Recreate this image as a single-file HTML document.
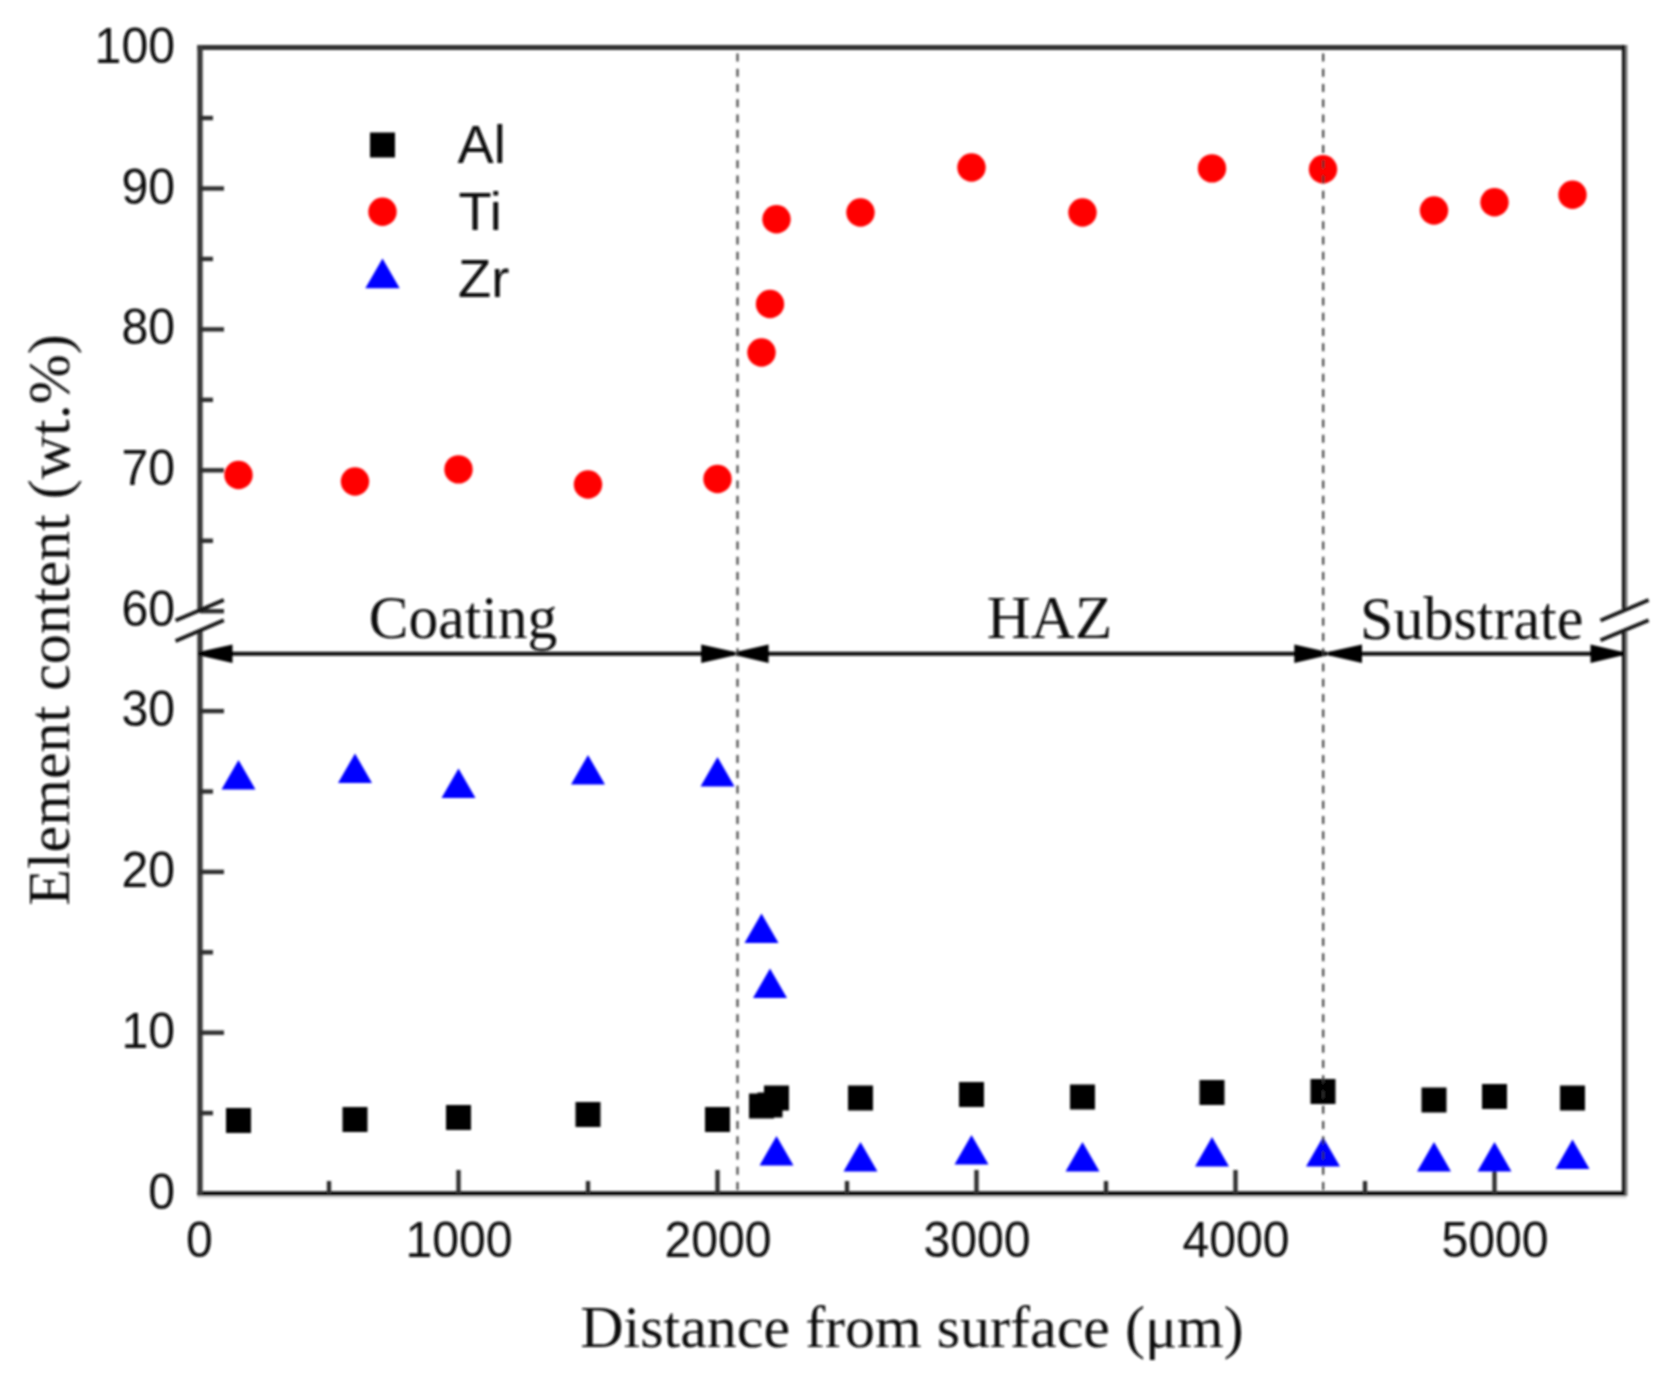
<!DOCTYPE html>
<html lang="en"><head><meta charset="utf-8"><title>Element content vs distance from surface</title>
<style>
html,body{margin:0;padding:0;background:#fff;}
body{width:1666px;height:1384px;overflow:hidden;}
svg{display:block;}
.sans{font-family:"Liberation Sans",Arial,Helvetica,sans-serif;fill:#0a0a0a;}
.serif{font-family:"Liberation Serif","Times New Roman",Times,serif;fill:#111;}
</style></head><body>
<svg width="1666" height="1384" viewBox="0 0 1666 1384">
<defs><filter id="soft" x="-2%" y="-2%" width="104%" height="104%"><feGaussianBlur stdDeviation="1.0"/></filter></defs>
<rect x="0" y="0" width="1666" height="1384" fill="#fff"/>
<g filter="url(#soft)">
<line x1="197.3" y1="47.4" x2="1625.2" y2="47.4" stroke="#333" stroke-width="5"/>
<line x1="197.3" y1="1197.2" x2="1626.5" y2="1197.2" stroke="#ddd" stroke-width="2.6"/>
<line x1="197.3" y1="1193.7" x2="1625.2" y2="1193.7" stroke="#0a0a0a" stroke-width="4.8"/>
<line x1="200" y1="45" x2="200" y2="612.5" stroke="#383838" stroke-width="5.3"/>
<line x1="200" y1="630" x2="200" y2="1196" stroke="#383838" stroke-width="5.3"/>
<line x1="1626.3" y1="45.0" x2="1626.3" y2="608.8" stroke="#808080" stroke-width="2.6"/>
<line x1="1623.6" y1="45.0" x2="1623.6" y2="608.8" stroke="#0c0c0c" stroke-width="3.3"/>
<line x1="1626.3" y1="630.0" x2="1626.3" y2="1196.0" stroke="#808080" stroke-width="2.6"/>
<line x1="1623.6" y1="630.0" x2="1623.6" y2="1196.0" stroke="#0c0c0c" stroke-width="3.3"/>
<g stroke="#2e2e2e" stroke-width="4.4" fill="none">
<line x1="200.0" y1="118.05" x2="213.0" y2="118.05"/>
<line x1="200.0" y1="188.50" x2="224.0" y2="188.50"/>
<line x1="200.0" y1="258.95" x2="213.0" y2="258.95"/>
<line x1="200.0" y1="329.40" x2="224.0" y2="329.40"/>
<line x1="200.0" y1="399.85" x2="213.0" y2="399.85"/>
<line x1="200.0" y1="470.30" x2="224.0" y2="470.30"/>
<line x1="200.0" y1="540.75" x2="213.0" y2="540.75"/>
<line x1="200.0" y1="611.20" x2="224.0" y2="611.20"/>
<line x1="200.0" y1="711.10" x2="224.0" y2="711.10"/>
<line x1="200.0" y1="791.50" x2="213.0" y2="791.50"/>
<line x1="200.0" y1="871.90" x2="224.0" y2="871.90"/>
<line x1="200.0" y1="952.30" x2="213.0" y2="952.30"/>
<line x1="200.0" y1="1032.70" x2="224.0" y2="1032.70"/>
<line x1="200.0" y1="1113.10" x2="213.0" y2="1113.10"/>
<line x1="329.00" y1="1194.0" x2="329.00" y2="1181.0"/>
<line x1="458.50" y1="1194.0" x2="458.50" y2="1170.0"/>
<line x1="588.00" y1="1194.0" x2="588.00" y2="1181.0"/>
<line x1="717.50" y1="1194.0" x2="717.50" y2="1170.0"/>
<line x1="847.00" y1="1194.0" x2="847.00" y2="1181.0"/>
<line x1="976.50" y1="1194.0" x2="976.50" y2="1170.0"/>
<line x1="1106.00" y1="1194.0" x2="1106.00" y2="1181.0"/>
<line x1="1235.50" y1="1194.0" x2="1235.50" y2="1170.0"/>
<line x1="1365.00" y1="1194.0" x2="1365.00" y2="1181.0"/>
<line x1="1494.50" y1="1194.0" x2="1494.50" y2="1170.0"/>
</g>
<g stroke="#151515" stroke-width="3.8" fill="none" stroke-linecap="butt">
<line x1="175.6" y1="620.6" x2="223.8" y2="600.0"/>
<line x1="175.6" y1="641.0" x2="223.8" y2="620.2"/>
<line x1="1600.5" y1="620.6" x2="1648.6" y2="600.0"/>
<line x1="1600.5" y1="640.2" x2="1648.6" y2="620.2"/>
</g>
<line x1="199.5" y1="653.7" x2="734.2" y2="653.7" stroke="#0a0a0a" stroke-width="4.0"/>
<polygon points="198.5,652.1 232.5,644.5 232.5,662.9 198.5,655.3" fill="#000"/>
<polygon points="735.2,652.1 701.2,644.5 701.2,662.9 735.2,655.3" fill="#000"/>
<line x1="736.6" y1="653.7" x2="1326.6" y2="653.7" stroke="#0a0a0a" stroke-width="4.0"/>
<polygon points="735.6,652.1 768.6,644.5 768.6,662.9 735.6,655.3" fill="#000"/>
<polygon points="1327.6,652.1 1294.3,644.5 1294.3,662.9 1327.6,655.3" fill="#000"/>
<line x1="1329.0" y1="653.7" x2="1622.0" y2="653.7" stroke="#0a0a0a" stroke-width="4.0"/>
<polygon points="1328.0,652.1 1362.0,644.5 1362.0,662.9 1328.0,655.3" fill="#000"/>
<polygon points="1623.0,652.1 1590.5,644.5 1590.5,662.9 1623.0,655.3" fill="#000"/>
<g fill="#000">
<rect x="226.00" y="1108.00" width="25.0" height="25.0"/>
<rect x="342.50" y="1107.00" width="25.0" height="25.0"/>
<rect x="446.00" y="1105.00" width="25.0" height="25.0"/>
<rect x="575.50" y="1102.00" width="25.0" height="25.0"/>
<rect x="705.00" y="1107.00" width="25.0" height="25.0"/>
<rect x="749.00" y="1093.50" width="25.0" height="25.0"/>
<rect x="757.50" y="1092.50" width="25.0" height="25.0"/>
<rect x="764.00" y="1085.50" width="25.0" height="25.0"/>
<rect x="848.00" y="1085.50" width="25.0" height="25.0"/>
<rect x="959.00" y="1082.00" width="25.0" height="25.0"/>
<rect x="1070.00" y="1084.50" width="25.0" height="25.0"/>
<rect x="1199.50" y="1080.00" width="25.0" height="25.0"/>
<rect x="1310.50" y="1079.00" width="25.0" height="25.0"/>
<rect x="1421.50" y="1087.50" width="25.0" height="25.0"/>
<rect x="1482.00" y="1084.00" width="25.0" height="25.0"/>
<rect x="1560.00" y="1085.50" width="25.0" height="25.0"/>
</g>
<g fill="#ff0000">
<circle cx="238.50" cy="475.00" r="14.2"/>
<circle cx="355.00" cy="481.50" r="14.2"/>
<circle cx="458.50" cy="469.40" r="14.2"/>
<circle cx="588.00" cy="484.50" r="14.2"/>
<circle cx="717.50" cy="479.00" r="14.2"/>
<circle cx="761.50" cy="352.50" r="14.2"/>
<circle cx="770.00" cy="304.00" r="14.2"/>
<circle cx="776.50" cy="219.20" r="14.2"/>
<circle cx="860.50" cy="212.50" r="14.2"/>
<circle cx="971.50" cy="167.50" r="14.2"/>
<circle cx="1082.50" cy="212.50" r="14.2"/>
<circle cx="1212.00" cy="168.40" r="14.2"/>
<circle cx="1323.00" cy="169.20" r="14.2"/>
<circle cx="1434.00" cy="210.50" r="14.2"/>
<circle cx="1494.50" cy="202.20" r="14.2"/>
<circle cx="1572.50" cy="194.80" r="14.2"/>
</g>
<g fill="#0000ff">
<polygon points="238.50,760.00 221.50,789.50 255.50,789.50"/>
<polygon points="355.00,753.50 338.00,783.00 372.00,783.00"/>
<polygon points="458.50,768.50 441.50,798.00 475.50,798.00"/>
<polygon points="588.00,755.00 571.00,784.50 605.00,784.50"/>
<polygon points="717.50,757.00 700.50,786.50 734.50,786.50"/>
<polygon points="761.50,913.50 744.50,943.00 778.50,943.00"/>
<polygon points="770.00,968.50 753.00,998.00 787.00,998.00"/>
<polygon points="776.50,1136.00 759.50,1165.50 793.50,1165.50"/>
<polygon points="860.50,1142.00 843.50,1171.50 877.50,1171.50"/>
<polygon points="971.50,1135.00 954.50,1164.50 988.50,1164.50"/>
<polygon points="1082.50,1142.00 1065.50,1171.50 1099.50,1171.50"/>
<polygon points="1212.00,1137.00 1195.00,1166.50 1229.00,1166.50"/>
<polygon points="1323.00,1137.00 1306.00,1166.50 1340.00,1166.50"/>
<polygon points="1434.00,1142.00 1417.00,1171.50 1451.00,1171.50"/>
<polygon points="1494.50,1142.00 1477.50,1171.50 1511.50,1171.50"/>
<polygon points="1572.50,1139.50 1555.50,1169.00 1589.50,1169.00"/>
</g>
<line x1="737.5" y1="53.6" x2="737.5" y2="1192.0" stroke="#333" stroke-width="2.0" stroke-dasharray="8 7.25"/>
<line x1="1323.2" y1="53.6" x2="1323.2" y2="1192.0" stroke="#333" stroke-width="2.0" stroke-dasharray="8 7.25"/>
<rect x="370" y="132.5" width="25" height="25" fill="#000"/>
<circle cx="382.5" cy="211.8" r="14.2" fill="#ff0000"/>
<polygon points="382.5,258.6 365.3,288.3 399.7,288.3" fill="#0000ff"/>
<g class="sans" font-size="54.3">
<text transform="translate(457.50,162.80) scale(1,1.000)">Al</text>
<text transform="translate(458.50,229.80) scale(1,1.000)">Ti</text>
<text transform="translate(458.00,296.60) scale(1,1.000)">Zr</text>
</g>
<g class="sans" font-size="48.2" text-anchor="end">
<text transform="translate(175.00,62.60) scale(1,1.050)">100</text>
<text transform="translate(175.00,203.50) scale(1,1.050)">90</text>
<text transform="translate(175.00,344.40) scale(1,1.050)">80</text>
<text transform="translate(175.00,485.30) scale(1,1.050)">70</text>
<text transform="translate(175.00,626.20) scale(1,1.050)">60</text>
<text transform="translate(175.00,726.10) scale(1,1.050)">30</text>
<text transform="translate(175.00,886.90) scale(1,1.050)">20</text>
<text transform="translate(175.00,1047.70) scale(1,1.050)">10</text>
<text transform="translate(175.00,1208.50) scale(1,1.050)">0</text>
</g>
<g class="sans" font-size="48.2" text-anchor="middle">
<text transform="translate(199.50,1257.00) scale(1,1.050)">0</text>
<text transform="translate(459.00,1257.00) scale(1,1.050)">1000</text>
<text transform="translate(718.00,1257.00) scale(1,1.050)">2000</text>
<text transform="translate(977.00,1257.00) scale(1,1.050)">3000</text>
<text transform="translate(1236.00,1257.00) scale(1,1.050)">4000</text>
<text transform="translate(1495.00,1257.00) scale(1,1.050)">5000</text>
</g>
<g class="serif" font-size="59.5" text-anchor="middle">
<text transform="translate(463.00,638.00) scale(1,1.030)">Coating</text>
<text transform="translate(1049.50,638.30) scale(1,0.990)" font-size="61">HAZ</text>
<text transform="translate(1471.70,639.40) scale(1,1.030)" font-size="60">Substrate</text>
</g>
<text class="serif" font-size="60" text-anchor="middle" x="912" y="1347">Distance from surface (μm)</text>
<text class="serif" font-size="60" text-anchor="middle" transform="translate(69,620) rotate(-90)">Element content (wt.%)</text>
</g>
</svg>
</body></html>
